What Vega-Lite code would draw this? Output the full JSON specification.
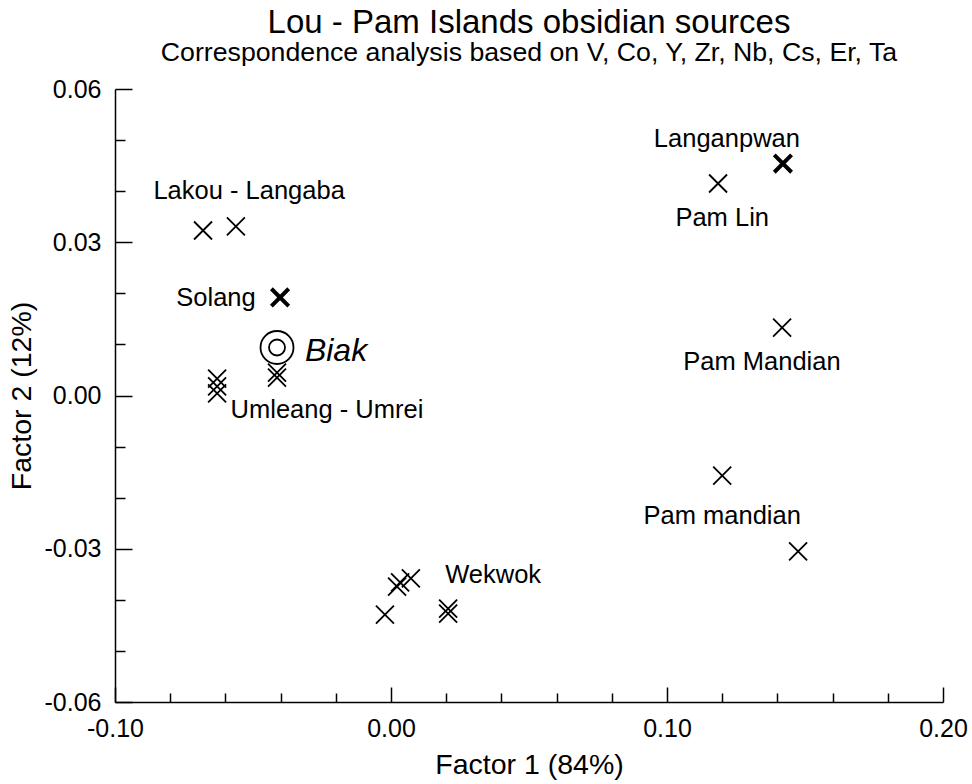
{
  "$schema": "https://vega.github.io/schema/vega-lite/v6.json",
  "width": 828,
  "height": 613,
  "autosize": "none",
  "padding": {"left": 115, "top": 89, "right": 29, "bottom": 82},
  "background": "white",
  "config": {"view": {"stroke": null}, "font": "Liberation Sans"},
  "title": {
    "text": "Lou - Pam Islands obsidian sources",
    "subtitle": "Correspondence analysis based on V, Co, Y, Zr, Nb, Cs, Er, Ta",
    "fontSize": 33,
    "fontWeight": "normal",
    "color": "black",
    "subtitleFontSize": 26.7,
    "subtitleColor": "black",
    "subtitlePadding": 0,
    "anchor": "middle",
    "offset": 10
  },
  "datasets": {
    "pts": [
      {"x": -0.0681, "y": 0.0323, "kind": "normal"},
      {"x": -0.0562, "y": 0.0331, "kind": "normal"},
      {"x": -0.0402, "y": 0.0192, "kind": "bold"},
      {"x": -0.0630, "y": 0.0033, "kind": "normal"},
      {"x": -0.0630, "y": 0.0018, "kind": "normal"},
      {"x": -0.0630, "y": 0.0004, "kind": "normal"},
      {"x": -0.0413, "y": 0.0045, "kind": "normal"},
      {"x": -0.0413, "y": 0.0035, "kind": "normal"},
      {"x": 0.0022, "y": -0.0374, "kind": "normal"},
      {"x": 0.0033, "y": -0.0366, "kind": "normal"},
      {"x": 0.0072, "y": -0.0358, "kind": "normal"},
      {"x": -0.0022, "y": -0.0429, "kind": "normal"},
      {"x": 0.0207, "y": -0.0417, "kind": "normal"},
      {"x": 0.0207, "y": -0.0427, "kind": "normal"},
      {"x": 0.1420, "y": 0.0454, "kind": "bold"},
      {"x": 0.1185, "y": 0.0415, "kind": "normal"},
      {"x": 0.1417, "y": 0.0133, "kind": "normal"},
      {"x": 0.1200, "y": -0.0157, "kind": "normal"},
      {"x": 0.1475, "y": -0.0305, "kind": "normal"}
    ],
    "biak": [{"x": -0.0413, "y": 0.0094}],
    "labels": [
      {"x": -0.0514, "y": 0.0400, "label": "Lakou - Langaba"},
      {"x": 0.1217, "y": 0.0503, "label": "Langanpwan"},
      {"x": 0.1200, "y": 0.0347, "label": "Pam Lin"},
      {"x": -0.0634, "y": 0.0190, "label": "Solang"},
      {"x": -0.0232, "y": -0.0029, "label": "Umleang - Umrei"},
      {"x": 0.1344, "y": 0.0065, "label": "Pam Mandian"},
      {"x": 0.1200, "y": -0.0235, "label": "Pam mandian"},
      {"x": 0.0370, "y": -0.0352, "label": "Wekwok"}
    ],
    "biaklabel": [{"x": -0.0312, "y": 0.0088, "label": "Biak"}]
  },
  "layer": [
    {
      "data": {"name": "pts"},
      "transform": [{"filter": "datum.kind == 'normal'"}],
      "mark": {"type": "point", "shape": "M-1,-1L1,1M-1,1L1,-1", "size": 324, "filled": false, "stroke": "black", "strokeWidth": 1.8, "opacity": 1},
      "encoding": {
        "x": {
          "field": "x", "type": "quantitative",
          "scale": {"domain": [-0.1, 0.2], "nice": false, "zero": false},
          "axis": {
            "orient": "bottom", "values": [-0.1, 0, 0.1, 0.2], "format": ".2f",
            "labelExpr": "replace(datum.label, '−', '-')",
            "grid": false, "tickSize": -15, "tickColor": "black", "tickWidth": 1.5,
            "domainColor": "black", "domainWidth": 1.5,
            "labelFontSize": 25, "labelColor": "black", "labelPadding": 29, "labelFlush": false,
            "title": "Factor 1 (84%)", "titleFontSize": 28.5, "titleFontWeight": "normal", "titleColor": "black", "titlePadding": 9
          }
        },
        "y": {
          "field": "y", "type": "quantitative",
          "scale": {"domain": [-0.06, 0.06], "nice": false, "zero": false},
          "axis": {
            "orient": "left", "values": [-0.06, -0.03, 0, 0.03, 0.06], "format": ".2f",
            "labelExpr": "replace(datum.label, '−', '-')",
            "grid": false, "tickSize": -17, "tickColor": "black", "tickWidth": 1.5,
            "domainColor": "black", "domainWidth": 1.5,
            "labelFontSize": 25, "labelColor": "black", "labelPadding": 31, "labelFlush": false,
            "title": "Factor 2 (12%)", "titleFontSize": 28.5, "titleFontWeight": "normal", "titleColor": "black", "titlePadding": 8
          }
        }
      }
    },
    {
      "data": {"name": "pts"},
      "transform": [{"filter": "datum.kind == 'bold'"}],
      "mark": {"type": "point", "shape": "M-1,-1L1,1M-1,1L1,-1", "size": 300, "filled": false, "stroke": "black", "strokeWidth": 4, "opacity": 1},
      "encoding": {
        "x": {
          "field": "x", "type": "quantitative",
          "axis": {
            "orient": "bottom", "values": [-0.08, -0.06, -0.04, -0.02, 0.02, 0.04, 0.06, 0.08, 0.12, 0.14, 0.16, 0.18],
            "labels": false, "domain": false, "grid": false, "title": null,
            "tickSize": -9, "tickColor": "black", "tickWidth": 1.5
          }
        },
        "y": {
          "field": "y", "type": "quantitative",
          "axis": {
            "orient": "left", "values": [-0.05, -0.04, -0.02, -0.01, 0.01, 0.02, 0.04, 0.05],
            "labels": false, "domain": false, "grid": false, "title": null,
            "tickSize": -10, "tickColor": "black", "tickWidth": 1.5
          }
        }
      }
    },
    {
      "data": {"name": "biak"},
      "mark": {"type": "point", "shape": "circle", "size": 1089, "filled": false, "stroke": "black", "strokeWidth": 1.8, "opacity": 1},
      "encoding": {
        "x": {"field": "x", "type": "quantitative", "axis": null},
        "y": {"field": "y", "type": "quantitative", "axis": null}
      }
    },
    {
      "data": {"name": "biak"},
      "mark": {"type": "point", "shape": "circle", "size": 256, "filled": false, "stroke": "black", "strokeWidth": 1.8, "opacity": 1},
      "encoding": {
        "x": {"field": "x", "type": "quantitative", "axis": null},
        "y": {"field": "y", "type": "quantitative", "axis": null}
      }
    },
    {
      "data": {"name": "labels"},
      "mark": {"type": "text", "fontSize": 25.5, "color": "black", "align": "center", "baseline": "middle"},
      "encoding": {
        "x": {"field": "x", "type": "quantitative", "axis": null},
        "y": {"field": "y", "type": "quantitative", "axis": null},
        "text": {"field": "label"}
      }
    },
    {
      "data": {"name": "biaklabel"},
      "mark": {"type": "text", "fontSize": 32, "fontStyle": "italic", "color": "black", "align": "left", "baseline": "middle"},
      "encoding": {
        "x": {"field": "x", "type": "quantitative", "axis": null},
        "y": {"field": "y", "type": "quantitative", "axis": null},
        "text": {"field": "label"}
      }
    }
  ],
  "resolve": {"axis": {"x": "independent", "y": "independent"}}
}
